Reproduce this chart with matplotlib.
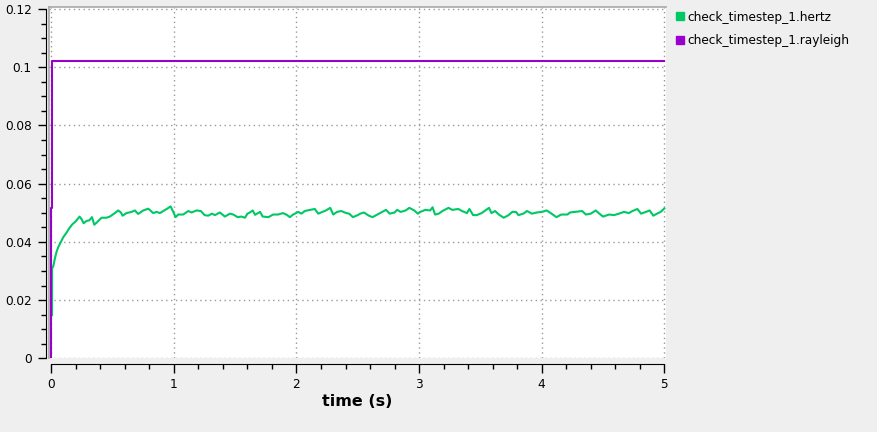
import matplotlib
matplotlib.use("Agg")
import matplotlib.pyplot as plt
from matplotlib.lines import Line2D
from matplotlib.ticker import MultipleLocator

hertz_t = [0.006, 0.007, 0.016, 0.03, 0.044, 0.057, 0.076, 0.098, 0.125, 0.144, 0.171, 0.198,
           0.231, 0.247, 0.264, 0.288, 0.31, 0.332, 0.351, 0.375, 0.41, 0.45, 0.478, 0.519,
           0.546, 0.568, 0.582, 0.614, 0.655, 0.682, 0.709, 0.75, 0.791, 0.832, 0.859, 0.886,
           0.921, 0.949, 0.973, 0.995, 1.014, 1.035, 1.076, 1.117, 1.144, 1.185, 1.22, 1.25,
           1.28, 1.31, 1.335, 1.375, 1.416, 1.457, 1.484, 1.52, 1.55, 1.58, 1.6,
           1.62, 1.643, 1.662, 1.703, 1.724, 1.771, 1.81, 1.85, 1.89, 1.92, 1.946, 1.973,
           2.014, 2.04, 2.068, 2.11, 2.15, 2.177, 2.2, 2.24, 2.275, 2.3, 2.33, 2.365, 2.405,
           2.43, 2.46, 2.5, 2.52, 2.55, 2.59, 2.62, 2.66, 2.69, 2.73, 2.76, 2.8, 2.82, 2.85,
           2.89, 2.92, 2.96, 2.99, 3.01, 3.05, 3.09, 3.11, 3.13, 3.16, 3.19, 3.24, 3.27, 3.32,
           3.35, 3.39, 3.41, 3.44, 3.47, 3.51, 3.54, 3.57, 3.59, 3.62, 3.65, 3.69, 3.73, 3.76,
           3.79, 3.81, 3.85, 3.88, 3.92, 3.96, 4.0, 4.04, 4.08, 4.12, 4.16, 4.21, 4.23, 4.27,
           4.33, 4.36, 4.4, 4.44, 4.47, 4.5, 4.55, 4.59, 4.63, 4.67, 4.71, 4.74, 4.78, 4.81,
           4.85, 4.88, 4.91, 4.94, 4.97, 5.0]
hertz_v = [0.0148, 0.031, 0.0315, 0.0344, 0.0367, 0.0382, 0.0398, 0.0416, 0.0432, 0.0445, 0.046, 0.047,
           0.0487, 0.0478, 0.0464, 0.0472, 0.0474, 0.0485, 0.0459, 0.0468, 0.0483, 0.0483, 0.0487, 0.0499,
           0.0508, 0.0501, 0.049, 0.0499, 0.0503, 0.0508, 0.0496, 0.0508, 0.0514, 0.0499, 0.0503, 0.0499,
           0.0508, 0.0515, 0.0522, 0.0503, 0.0485, 0.0494, 0.0494, 0.0506, 0.0501, 0.0508, 0.0506, 0.0492,
           0.049, 0.0497, 0.0492, 0.0501, 0.0487, 0.0497, 0.0494, 0.0485, 0.0487, 0.0483, 0.0497,
           0.0501, 0.0508, 0.0493, 0.0503, 0.0487, 0.0485, 0.0494, 0.0494, 0.0499, 0.0493, 0.0485, 0.0494,
           0.0503, 0.0497, 0.0506, 0.051, 0.0513, 0.0497, 0.0501, 0.0508, 0.0517, 0.0494, 0.0503, 0.0506, 0.0499,
           0.0497, 0.0485, 0.0492, 0.0497, 0.0501, 0.049, 0.0485, 0.0494, 0.0501, 0.051, 0.0497, 0.0501, 0.051, 0.0503,
           0.0508, 0.0517, 0.0508, 0.0497, 0.0503, 0.051, 0.0508, 0.0519, 0.0494, 0.0497, 0.0506, 0.0517, 0.051, 0.0513,
           0.0506, 0.0499, 0.0513, 0.0492, 0.0492, 0.0499, 0.0508, 0.0517, 0.0499, 0.0506, 0.0494, 0.0483, 0.0492, 0.0503,
           0.0503, 0.0492, 0.0497, 0.0506, 0.0497, 0.0501, 0.0503, 0.0508, 0.0497, 0.0485, 0.0494, 0.0494, 0.0501, 0.0503,
           0.0506, 0.0494, 0.0497, 0.0508, 0.0497, 0.0487, 0.0494, 0.0492, 0.0497, 0.0503, 0.0499, 0.0506, 0.0513, 0.0497,
           0.0503, 0.0508, 0.049, 0.0497, 0.0503, 0.0515]

rayleigh_t = [0.0, 0.0, 0.008, 0.008, 5.0]
rayleigh_v = [0.0, 0.0515, 0.0515, 0.1022, 0.1022]

series_labels = ["check_timestep_1.hertz", "check_timestep_1.rayleigh"]
series_colors = ["#00c864", "#9900cc"]

x_ticks = [0, 1, 2, 3, 4, 5]
y_ticks = [0, 0.02, 0.04, 0.06, 0.08, 0.1, 0.12]
y_tick_labels = ["0", "0.02", "0.04", "0.06", "0.08", "0.1", "0.12"]

plt.rcParams['font.family'] = ['DejaVu Sans']
W, H = 877, 432
fig = plt.figure(figsize=(W / 100, H / 100), dpi=100, facecolor="#efefef")
ax = fig.add_axes([49.3 / W, 1 - 358.3 / H, 616.4 / W, 351 / H])
ax.set_facecolor("white")

ax.plot(hertz_t, hertz_v, color=series_colors[0], lw=1.5, zorder=3)
ax.plot(rayleigh_t, rayleigh_v, color=series_colors[1], lw=1.5, zorder=3)

ax.set_xlim(-0.016, 5.011)
ax.set_ylim(0, 0.1206)
ax.set_xticks(x_ticks)
ax.set_xticklabels([str(t) for t in x_ticks])
ax.set_yticks(y_ticks)
ax.set_yticklabels(y_tick_labels)
ax.xaxis.set_minor_locator(MultipleLocator(0.2))
ax.yaxis.set_minor_locator(MultipleLocator(0.005))
ax.tick_params(axis='x', which='major', length=6.3, width=1, labelsize=8.7, pad=3.5, colors='black')
ax.tick_params(axis='y', which='major', length=5.8, width=1, labelsize=8.7, pad=4.3, colors='black')
ax.tick_params(axis='both', which='minor', length=3.6, width=1)

ax.grid(True, which='major', color='#999999', linestyle=(0, (1, 2.5)), linewidth=1)

ax.spines['left'].set_position(('outward', 2.6))
ax.spines['bottom'].set_position(('outward', 4.4))
ax.spines['left'].set_bounds(0, 0.12)
ax.spines['bottom'].set_bounds(0, 5)
ax.spines['top'].set_color('#a8a8a8')
ax.spines['top'].set_linewidth(1.2)
ax.spines['right'].set_position(('axes', 0.0))
ax.spines['right'].set_color('#a8a8a8')
ax.spines['right'].set_linewidth(1.2)
ax.yaxis.set_ticks_position('left')
ax.xaxis.set_ticks_position('bottom')

ax.set_xlabel("time (s)", fontsize=11.5, fontweight='bold', labelpad=2)

handles = [Line2D([], [], marker='s', linestyle='none', markersize=5.8,
                  markerfacecolor=c, markeredgecolor=c) for c in series_colors]
fig.legend(handles, series_labels, loc='upper left', bbox_to_anchor=(676 / W, 1 - 10.5 / H),
           frameon=False, fontsize=8.7, handlelength=0.6, handletextpad=0.35,
           labelspacing=0.9, borderaxespad=0, borderpad=0)

fig.savefig("out.png", dpi=100, facecolor=fig.get_facecolor())
